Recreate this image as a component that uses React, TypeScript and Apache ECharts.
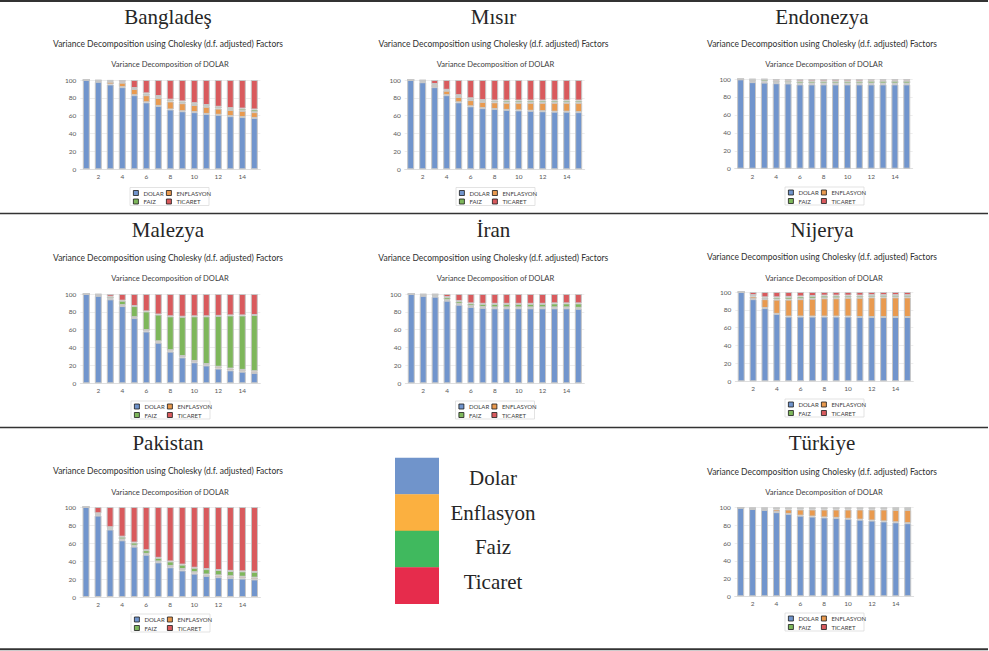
import React, { useEffect, useRef } from "react";
import * as echarts from "echarts";

// Forecast horizon (periods) on the category axis
const periods = ["1", "2", "3", "4", "5", "6", "7", "8", "9", "10", "11", "12", "13", "14", "15"];
const shockNames = ["DOLAR", "ENFLASYON", "FAIZ", "TICARET"];
const keyLabels = ["Dolar", "Enflasyon", "Faiz", "Ticaret"];
const chartSubtitle = "Variance Decomposition using Cholesky (d.f. adjusted) Factors";
const chartHeading = "Variance Decomposition of DOLAR";

// Bangladeş
const bangladeshDolar = [100, 98, 95, 92, 83, 75, 71, 67, 65, 64, 62, 61, 59.5, 58.5, 57.5];
const bangladeshEnflasyon = [0, 0.8, 3, 5, 7, 8, 9, 9, 9, 8, 8, 7, 7, 7, 6.5];
const bangladeshFaiz = [0, 0.7, 1, 1, 1, 2, 2, 2, 2, 2, 2, 2, 2, 2.5, 3];
const bangladeshTicaret = [0, 0.5, 1, 2, 9, 15, 18, 22, 24, 26, 28, 30, 31.5, 32, 33];

// Mısır
const misirDolar = [100, 97.5, 92, 83, 75, 70.5, 68.5, 67.5, 66.5, 66, 65.5, 65, 64.5, 64.5, 64];
const misirEnflasyon = [0, 1, 2.5, 5, 6, 7, 7, 7.5, 8, 8.5, 9, 9.5, 10, 10, 10.5];
const misirFaiz = [0, 1, 1, 1, 2, 2, 2, 2, 2.5, 2.5, 2.5, 2.5, 2.5, 2.5, 2.5];
const misirTicaret = [0, 0.5, 4.5, 11, 17, 20.5, 22.5, 23, 23, 23, 23, 23, 23, 23, 23];

// Endonezya
const endonezyaDolar = [99.6, 96.5, 96, 95.3, 95, 94, 94, 94, 94, 94, 94, 94, 94, 94, 94];
const endonezyaEnflasyon = [0.1, 1.2, 1.2, 1, 1, 1, 1, 1, 1, 1, 1, 1, 1, 1, 1];
const endonezyaFaiz = [0.2, 1.8, 2.3, 1.7, 2, 2.5, 2.5, 2.5, 2.5, 2.5, 2.5, 3, 3, 3, 3];
const endonezyaTicaret = [0.1, 0.5, 0.5, 2, 2, 2.5, 2.5, 2.5, 2.5, 2.5, 2.5, 2, 2, 2, 2];

// Malezya
const malezyaDolar = [100, 98, 94, 86.5, 73, 58, 45.5, 35.5, 29, 23.5, 20, 16.5, 14.5, 13, 11.5];
const malezyaEnflasyon = [0, 0.5, 1, 1, 1, 1.5, 1.5, 1.5, 1.5, 1.5, 1.5, 2, 2, 2, 2];
const malezyaFaiz = [0, 1, 2, 5, 12.5, 21, 30, 38, 44, 50, 53.5, 57, 59.5, 61, 63];
const malezyaTicaret = [0, 0.5, 3, 7.5, 13.5, 19.5, 23, 25, 25.5, 25, 25, 24.5, 24, 24, 23.5];

// İran
const iranDolar = [100, 98, 97, 92.5, 88, 85.5, 84.5, 84, 84, 84, 84, 84, 84, 84, 83.5];
const iranEnflasyon = [0, 0.5, 1, 1, 1, 1, 1, 1, 1, 1, 1, 1, 1, 1, 1];
const iranFaiz = [0, 1, 1.5, 3, 3, 3, 3.5, 4, 4, 4, 4, 4, 4.5, 4.5, 5];
const iranTicaret = [0, 0.5, 0.5, 3.5, 8, 10.5, 11, 11, 11, 11, 11, 11, 10.5, 10.5, 10.5];

// Nijerya
const nijeryaDolar = [100, 92, 82, 75.5, 72.5, 72.5, 72.5, 72.5, 72.5, 72.5, 72, 72, 72, 72, 72];
const nijeryaEnflasyon = [0, 3, 10, 16, 19, 19.5, 20, 20.5, 20.5, 21, 21.5, 22, 22, 22, 22];
const nijeryaFaiz = [0, 1.5, 2, 2.5, 3, 3, 3, 3, 3, 2.5, 2.5, 2.5, 2.5, 2.5, 2.5];
const nijeryaTicaret = [0, 3.5, 6, 6, 5.5, 5, 4.5, 4, 4, 4, 4, 3.5, 3.5, 3.5, 3.5];

// Pakistan
const pakistanDolar = [100, 90.5, 75, 63, 56, 47, 38.5, 33, 29.5, 26, 23.5, 22, 21, 20.5, 19.5];
const pakistanEnflasyon = [0, 1, 1, 1, 1, 1, 1, 1.5, 1.5, 1.5, 1.5, 2, 2, 2, 2];
const pakistanFaiz = [0, 1.5, 1.5, 3, 3.5, 4, 4, 5, 5, 5, 6, 6, 6, 6, 6.5];
const pakistanTicaret = [0, 7, 22.5, 33, 39.5, 48, 56.5, 60.5, 64, 67.5, 69, 70, 71, 71.5, 72];

// Türkiye
const turkiyeDolar = [100, 98.5, 97.5, 95, 93, 91, 90, 89, 88.5, 87.5, 86.5, 85.5, 84.5, 83.5, 82.5];
const turkiyeEnflasyon = [0, 0.5, 1, 3, 5, 7, 8, 9, 9.5, 10.5, 11.5, 12.5, 13.5, 14, 15];
const turkiyeFaiz = [0, 0.5, 1, 1.5, 1.5, 1.5, 1.5, 1.5, 1.5, 1.5, 1.5, 1.5, 1.5, 2, 2];
const turkiyeTicaret = [0, 0.5, 0.5, 0.5, 0.5, 0.5, 0.5, 0.5, 0.5, 0.5, 0.5, 0.5, 0.5, 0.5, 0.5];

const countries = [
  { name: "Bangladeş", values: [bangladeshDolar, bangladeshEnflasyon, bangladeshFaiz, bangladeshTicaret] },
  { name: "Mısır", values: [misirDolar, misirEnflasyon, misirFaiz, misirTicaret] },
  { name: "Endonezya", values: [endonezyaDolar, endonezyaEnflasyon, endonezyaFaiz, endonezyaTicaret] },
  { name: "Malezya", values: [malezyaDolar, malezyaEnflasyon, malezyaFaiz, malezyaTicaret] },
  { name: "İran", values: [iranDolar, iranEnflasyon, iranFaiz, iranTicaret] },
  { name: "Nijerya", values: [nijeryaDolar, nijeryaEnflasyon, nijeryaFaiz, nijeryaTicaret] },
  { name: "Pakistan", values: [pakistanDolar, pakistanEnflasyon, pakistanFaiz, pakistanTicaret] },
  { name: "Türkiye", values: [turkiyeDolar, turkiyeEnflasyon, turkiyeFaiz, turkiyeTicaret] },
];

// Placement of each panel on the page (plot box, headings, legend frame)
const layouts = [
  { left: 80.3, top: 80, width: 180, height: 89.3, cx: 168, titleY: 17, subY: 44, headX: 170, headY: 64.3, boxX: 130, boxY: 187.5 },
  { left: 404.7, top: 80, width: 180, height: 89.3, cx: 493.5, titleY: 16.7, subY: 44, headX: 495.5, headY: 64.3, boxX: 456, boxY: 187.5 },
  { left: 734.7, top: 79, width: 178, height: 89.7, cx: 822, titleY: 16.5, subY: 44, headX: 824, headY: 64.3, boxX: 785, boxY: 187 },
  { left: 80.3, top: 294, width: 180, height: 89.3, cx: 168, titleY: 230.3, subY: 258, headX: 170, headY: 278.3, boxX: 131, boxY: 401 },
  { left: 405.3, top: 294, width: 179, height: 89.3, cx: 493.3, titleY: 230.3, subY: 258, headX: 495.5, headY: 278.3, boxX: 455.5, boxY: 401 },
  { left: 735.3, top: 292, width: 178, height: 89.3, cx: 822, titleY: 229.5, subY: 257, headX: 824, headY: 277.7, boxX: 785, boxY: 399 },
  { left: 80, top: 507, width: 180.5, height: 90, cx: 168, titleY: 443.3, subY: 471.3, headX: 170, headY: 491.5, boxX: 131, boxY: 614 },
  { left: 734.7, top: 507.7, width: 179, height: 88.6, cx: 822, titleY: 443.3, subY: 471.5, headX: 824, headY: 491.7, boxX: 785, boxY: 613 },
];

const barColors = ["#7195cd", "#e99a4f", "#7eb75b", "#d95a5d"];
const keyColors = ["#7094cb", "#fbb040", "#40b95e", "#e62c4c"];
const serif = '"Liberation Serif", "Times New Roman", serif';
const sans = 'Lato, "Open Sans", sans-serif';

function centeredText(text: string, x: number, y: number, size: number, family: string, fill: string) {
  return {
    type: "text",
    x,
    y,
    silent: true,
    style: {
      text,
      fontSize: size,
      fontFamily: family,
      fontWeight: "normal",
      fill,
      align: "center",
      verticalAlign: "middle",
      textAlign: "center",
      textVerticalAlign: "middle",
    },
  };
}

function buildOption() {
  const grid: any[] = [];
  const xAxis: any[] = [];
  const yAxis: any[] = [];
  const series: any[] = [];
  const legend: any[] = [];
  const graphics: any[] = [];

  countries.forEach((country, i) => {
    const l = layouts[i];
    grid.push({ left: l.left, top: l.top, width: l.width, height: l.height, containLabel: false });
    xAxis.push({
      type: "category",
      gridIndex: i,
      data: periods,
      axisTick: { show: false },
      axisLine: { show: true, lineStyle: { color: "#d9d9d9", width: 0.8 } },
      axisLabel: {
        interval: (idx: number) => idx % 2 === 1,
        fontSize: 6.5,
        fontFamily: sans,
        color: "#595959",
        margin: 4,
      },
    });
    yAxis.push({
      type: "value",
      gridIndex: i,
      min: 0,
      max: 100,
      interval: 20,
      axisLine: { show: false },
      axisTick: { show: false },
      axisLabel: { fontSize: 6.5, fontFamily: sans, color: "#595959", margin: 4 },
      splitLine: { lineStyle: { color: "#e8e8e8", width: 0.8 } },
    });
    shockNames.forEach((shock, k) => {
      series.push({
        type: "bar",
        name: shock,
        xAxisIndex: i,
        yAxisIndex: i,
        stack: "panel" + i,
        data: country.values[k],
        barWidth: 7,
        itemStyle: { color: barColors[k], borderColor: "#c6c6c6", borderWidth: 1 },
        emphasis: { disabled: true },
      });
    });

    const legendCommon = {
      orient: "vertical",
      padding: 0,
      itemGap: 2.5,
      itemWidth: 5,
      itemHeight: 5,
      icon: "rect",
      selectedMode: false,
      itemStyle: { borderColor: "#1a1a1a", borderWidth: 0.8 },
      textStyle: { fontSize: 6, fontFamily: sans, color: "#404040", lineHeight: 6 },
    };
    legend.push({ ...legendCommon, left: l.boxX + 3, top: l.boxY + 2.5, data: [shockNames[0], shockNames[2]] });
    legend.push({ ...legendCommon, left: l.boxX + 36, top: l.boxY + 2.5, data: [shockNames[1], shockNames[3]] });

    graphics.push({
      type: "rect",
      silent: true,
      shape: { x: l.boxX, y: l.boxY, width: 79, height: 18 },
      style: { fill: "none", stroke: "#dcdcdc", lineWidth: 0.8 },
    });
    graphics.push(centeredText(country.name, l.cx, l.titleY, 21, serif, "#262626"));
    graphics.push(centeredText(chartSubtitle, l.cx, l.subY, 8.5, sans, "#303030"));
    graphics.push(centeredText(chartHeading, l.headX, l.headY, 7.6, sans, "#404040"));
  });

  // Table rules across the page
  [
    { y: 1, w: 2 },
    { y: 213.5, w: 1.5 },
    { y: 427.5, w: 1.5 },
    { y: 649.3, w: 2 },
  ].forEach((r) => {
    graphics.push({
      type: "line",
      silent: true,
      shape: { x1: 0, y1: r.y, x2: 988, y2: r.y },
      style: { stroke: "#333333", lineWidth: r.w },
    });
  });

  // Shared colour key in the middle cell of the last row
  const keyTop = 457.7;
  const keyStep = 36.5;
  const labelStep = 34.7;
  keyLabels.forEach((label, k) => {
    graphics.push({
      type: "rect",
      silent: true,
      shape: { x: 395, y: keyTop + k * keyStep, width: 44, height: keyStep + 0.3 },
      style: { fill: keyColors[k] },
    });
    graphics.push(centeredText(label, 493, 477.8 + k * labelStep, 21, serif, "#262626"));
  });

  return {
    animation: false,
    backgroundColor: "#ffffff",
    grid,
    xAxis,
    yAxis,
    series,
    legend,
    graphic: { elements: graphics },
  };
}

export default function App() {
  const ref = useRef<HTMLDivElement>(null);
  useEffect(() => {
    if (!ref.current) return;
    const chart = echarts.init(ref.current, undefined, { renderer: "svg" });
    chart.setOption(buildOption() as any);
    return () => chart.dispose();
  }, []);
  return (
    <div
      ref={ref}
      style={{ position: "absolute", left: 0, top: 0, width: 989, height: 651, background: "#fff" }}
    />
  );
}
